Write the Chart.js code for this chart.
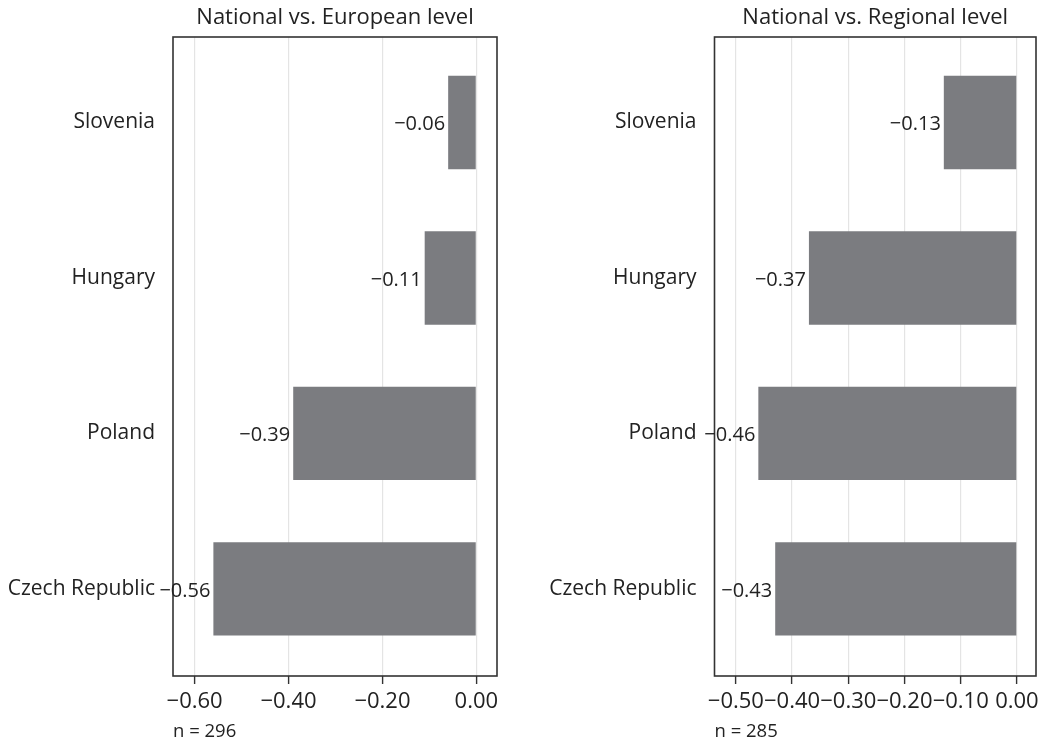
<!DOCTYPE html>
<html>
<head>
<meta charset="utf-8">
<script src="https://cdn.jsdelivr.net/npm/chart.js@4/dist/chart.umd.min.js"></script>
<style>
  body { margin: 0; background: #fff; }
  #wrap { position: relative; width: 1043px; height: 744px; }
  canvas { position: absolute; top: 0; }
</style>
</head>
<body>
<div id="wrap">
  <canvas id="leftChart" width="521" height="744" style="left:0"></canvas>
  <canvas id="rightChart" width="522" height="744" style="left:521px"></canvas>
</div>
<script>
// countries, top to bottom
const countries = ['Slovenia', 'Hungary', 'Poland', 'Czech Republic'];

// national vs. european level
const europeanValues = [-0.06, -0.11, -0.39, -0.56];
const europeanTicks = [-0.6, -0.4, -0.2, 0];
const europeanN = 'n = 296';

// national vs. regional level
const regionalValues = [-0.13, -0.37, -0.46, -0.43];
const regionalTicks = [-0.5, -0.4, -0.3, -0.2, -0.1, 0];
const regionalN = 'n = 285';

const FONT = '"Open Sans", sans-serif';
const TEXT = '#222';

function fmt(v) {
    return v.toFixed(2).replace('-', '\u2212');
}

// draws the box, the title, the n and the numbers next to the bars
const extrasPlugin = {
    id: 'extras',
    afterDraw(chart, args, opts) {
        const ctx = chart.ctx;
        const a = chart.chartArea;
        ctx.save();
        ctx.strokeStyle = '#333';
        ctx.lineWidth = 1.6;
        ctx.strokeRect(a.left, a.top, a.right - a.left, a.bottom - a.top);

        ctx.fillStyle = TEXT;
        ctx.font = '22px ' + FONT;
        ctx.textAlign = 'center';
        ctx.textBaseline = 'middle';
        ctx.fillText(opts.title, (a.left + a.right) / 2, 18);

        ctx.font = '18.5px ' + FONT;
        ctx.textAlign = 'left';
        ctx.fillText(opts.n, a.left, 732);

        // value labels, right aligned just left of the bar end
        const meta = chart.getDatasetMeta(0);
        ctx.font = '20px ' + FONT;
        ctx.textAlign = 'right';
        meta.data.forEach((bar, i) => {
            const v = chart.data.datasets[0].data[i].x;
            ctx.fillText(fmt(v), bar.x - 3, bar.y + 2);
        });
        ctx.restore();
    }
};

function makeChart(id, values, ticks, xmin, xmax, yWidth, padRight, title, n) {
    return new Chart(document.getElementById(id), {
        type: 'bar',
        data: {
            datasets: [{
                data: values.map((v, i) => ({ x: v, y: i })),
                backgroundColor: '#7b7c80',
                borderWidth: 0,
                barPercentage: 0.6,
                categoryPercentage: 1
            }]
        },
        options: {
            indexAxis: 'y',
            responsive: false,
            animation: false,
            layout: { padding: { left: 0, right: padRight, top: 37, bottom: 0 } },
            scales: {
                x: {
                    type: 'linear',
                    min: xmin,
                    max: xmax,
                    afterBuildTicks: s => { s.ticks = ticks.map(v => ({ value: v })); },
                    afterFit: s => { s.height = 68; s.paddingLeft = 0; s.paddingRight = 0; },
                    grid: { color: '#e4e4e4', lineWidth: 1.2, tickColor: '#333', tickLength: 8, tickWidth: 1.4 },
                    border: { display: false },
                    ticks: {
                        autoSkip: false,
                        maxRotation: 0,
                        padding: 5,
                        color: TEXT,
                        font: { family: FONT, size: 22 },
                        callback: v => fmt(v)
                    }
                },
                y: {
                    type: 'linear',
                    reverse: true,
                    offset: false,
                    min: -0.55,
                    max: 3.56,
                    afterBuildTicks: s => { s.ticks = countries.map((c, i) => ({ value: i })); },
                    afterFit: s => { s.width = yWidth; s.paddingTop = 0; s.paddingBottom = 0; },
                    grid: { display: false, offset: false },
                    border: { display: false },
                    ticks: {
                        padding: 10,
                        color: TEXT,
                        font: { family: FONT, size: 21 },
                        callback: v => countries[v]
                    }
                }
            },
            plugins: {
                legend: { display: false },
                tooltip: { enabled: false },
                extras: { title: title, n: n }
            }
        },
        plugins: [extrasPlugin]
    });
}

makeChart('leftChart', europeanValues, europeanTicks, -0.646, 0.044, 173, 24,
    'National vs. European level', europeanN);
makeChart('rightChart', regionalValues, regionalTicks, -0.538, 0.034, 193.5, 7,
    'National vs. Regional level', regionalN);
</script>
</body>
</html>
